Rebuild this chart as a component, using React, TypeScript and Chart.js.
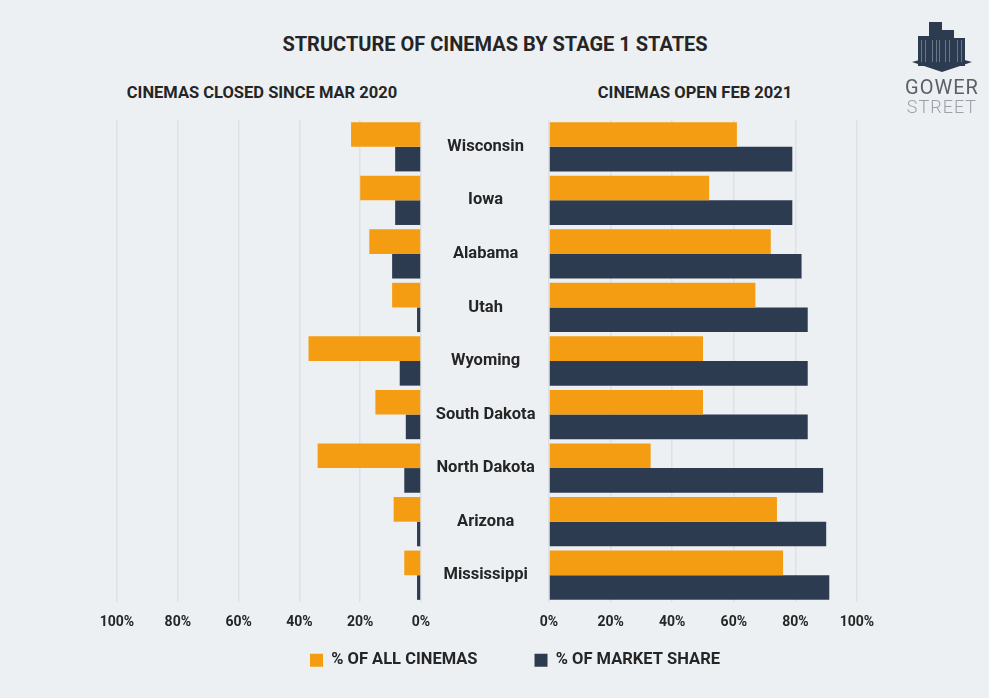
import React, { useEffect, useRef } from "react";
import { Chart, registerables } from "chart.js";

Chart.register(...registerables);

const states = ["Wisconsin", "Iowa", "Alabama", "Utah", "Wyoming", "South Dakota", "North Dakota", "Arizona", "Mississippi"];
const closedAllCinemas = [23, 20, 17, 9.5, 37, 15, 34, 9, 5.5];
const closedMarketShare = [8.5, 8.5, 9.5, 1.3, 7, 5, 5.5, 1.3, 1.3];
const openAllCinemas = [61, 52, 72, 67, 50, 50, 33, 74, 76];
const openMarketShare = [79, 79, 82, 84, 84, 84, 89, 90, 91];
const tickValues = [0, 20, 40, 60, 80, 100];
const seriesLabels = ["% OF ALL CINEMAS", "% OF MARKET SHARE"];

const ORANGE = "#f49c12";
const DARK = "#2c3b4f";
const BG = "#edf0f3";
const GRID = "#dde2e8";
const TEXT = "#252525";
const FONT = "Roboto";

function setTicks(scale: any) {
  scale.ticks = tickValues.map((v) => ({ value: v }));
}

const legendShift = {
  id: "legendShift",
  afterLayout(chart: any) {
    const l = chart.legend;
    if (l) {
      l.top -= 37;
      l.bottom -= 37;
    }
  },
};

export default function App() {
  const leftRef = useRef<HTMLCanvasElement>(null);
  const rightRef = useRef<HTMLCanvasElement>(null);

  useEffect(() => {
    const xTicks = {
      font: { family: FONT, size: 14, weight: "bold" as const },
      color: TEXT,
      padding: 12,
      callback: (v: any) => v + "%",
      autoSkip: false,
      maxRotation: 0,
    };
    const left = new Chart(leftRef.current!, {
      type: "bar",
      data: {
        labels: states,
        datasets: [
          { label: seriesLabels[0], data: closedAllCinemas, backgroundColor: ORANGE, borderWidth: 0 },
          { label: seriesLabels[1], data: closedMarketShare, backgroundColor: DARK, borderWidth: 0 },
        ],
      },
      options: {
        indexAxis: "y",
        responsive: false,
        animation: false,
        devicePixelRatio: 1,
        layout: { padding: { left: 117, right: 9, top: 120, bottom: 66 } },
        datasets: { bar: { categoryPercentage: 0.92, barPercentage: 1 } },
        plugins: { legend: { display: false }, tooltip: { enabled: false }, title: { display: false } },
        scales: {
          x: {
            reverse: true,
            min: 0,
            max: 100,
            afterBuildTicks: setTicks,
            afterFit: (s: any) => { s.height = 30; },
            grid: { color: GRID, drawTicks: false, lineWidth: 1.5 },
            border: { display: false },
            ticks: xTicks,
          },
          y: { display: false },
        },
      },
    });
    const right = new Chart(rightRef.current!, {
      type: "bar",
      data: {
        labels: states,
        datasets: [
          { label: seriesLabels[0], data: openAllCinemas, backgroundColor: ORANGE, borderWidth: 0 },
          { label: seriesLabels[1], data: openMarketShare, backgroundColor: DARK, borderWidth: 0 },
        ],
      },
      plugins: [legendShift],
      options: {
        indexAxis: "y",
        responsive: false,
        animation: false,
        devicePixelRatio: 1,
        layout: { padding: { left: 173, right: 132, top: 120, bottom: -17.5 } },
        datasets: { bar: { categoryPercentage: 0.92, barPercentage: 1 } },
        plugins: {
          tooltip: { enabled: false },
          title: { display: false },
          legend: {
            display: true,
            position: "bottom",
            labels: {
              font: { family: FONT, size: 16.5, weight: "bold" },
              color: TEXT,
              boxWidth: 13,
              boxHeight: 13,
              padding: 57,
            },
          },
        },
        scales: {
          x: {
            min: 0,
            max: 100,
            afterBuildTicks: setTicks,
            afterFit: (s: any) => { s.height = 30; },
            grid: { color: GRID, drawTicks: false, lineWidth: 1.5 },
            border: { display: false },
            ticks: xTicks,
          },
          y: {
            afterFit: (s: any) => { s.width = 376; },
            grid: { display: false, drawTicks: false },
            border: { display: false },
            ticks: {
              font: { family: FONT, size: 16.5, weight: "bold" },
              color: TEXT,
              crossAlign: "center",
              padding: 13.5,
              autoSkip: false,
            },
          },
        },
      },
    });
    return () => {
      left.destroy();
      right.destroy();
    };
  }, []);

  return (
    <div style={{ position: "fixed", left: 0, top: 0, width: 989, height: 698, background: BG, fontFamily: FONT, overflow: "hidden" }}>
      <div style={{ position: "absolute", left: 0, top: 32, width: 990, textAlign: "center", fontSize: 20, fontWeight: 700, color: TEXT }}>
        STRUCTURE OF CINEMAS BY STAGE 1 STATES
      </div>
      <div style={{ position: "absolute", left: 62, top: 83, width: 400, textAlign: "center", fontSize: 16.5, fontWeight: 700, color: TEXT }}>
        CINEMAS CLOSED SINCE MAR 2020
      </div>
      <div style={{ position: "absolute", left: 495, top: 83, width: 400, textAlign: "center", fontSize: 16.5, fontWeight: 700, color: TEXT }}>
        CINEMAS OPEN FEB 2021
      </div>
      <canvas ref={rightRef} width={989} height={698} style={{ position: "absolute", left: 0, top: 0 }} />
      <canvas ref={leftRef} width={430} height={698} style={{ position: "absolute", left: 0, top: 0 }} />
      <div style={{ position: "absolute", left: 900, top: 18, width: 84, textAlign: "center" }}>
        <svg width={64} height={56} viewBox="0 0 64 56">
          <polygon points="2,44 32,36 62,44 32,54" fill={DARK} />
          <rect x={8} y={18} width={11} height={30} fill={DARK} />
          <rect x={19} y={4} width={13} height={44} fill={DARK} />
          <rect x={32} y={12} width={12} height={36} fill={DARK} />
          <rect x={44} y={20} width={11} height={28} fill={DARK} />
          {[11, 15, 22, 26, 29, 35, 39, 47, 51].map((x) => (
            <rect key={x} x={x} y={22} width={1} height={22} fill="#6b7788" />
          ))}
        </svg>
        <div style={{ fontSize: 20, color: "#5b6068", letterSpacing: 1, lineHeight: "20px", marginTop: -1 }}>GOWER</div>
        <div style={{ fontSize: 18, color: "#9ba1a8", fontWeight: 300, letterSpacing: 1, lineHeight: "20px" }}>STREET</div>
      </div>
    </div>
  );
}
